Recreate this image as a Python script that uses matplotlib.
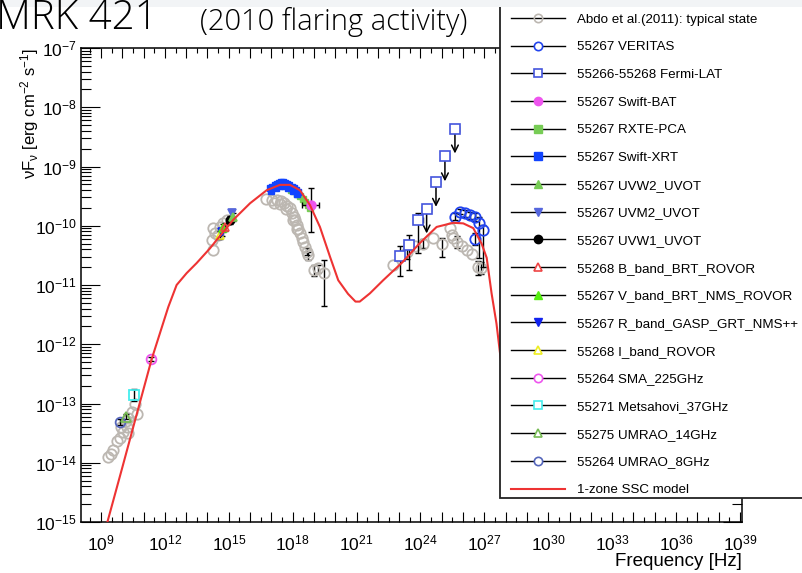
import numpy as np
import matplotlib
matplotlib.use('Agg')
import matplotlib.pyplot as plt
from matplotlib.lines import Line2D
from matplotlib.patches import Rectangle
from matplotlib.ticker import FixedLocator, FuncFormatter, LogLocator, NullFormatter

plt.rcParams['font.family'] = ['Liberation Sans', 'DejaVu Sans']
plt.rcParams['mathtext.fontset'] = 'custom'
plt.rcParams['mathtext.rm'] = 'Liberation Sans'
plt.rcParams['mathtext.it'] = 'Liberation Sans:italic'
plt.rcParams['mathtext.bf'] = 'Liberation Sans:bold'
plt.rcParams['mathtext.default'] = 'regular'

# ---------------- data (log10 nu [Hz], log10 nuFnu [erg cm^-2 s^-1]) ----------------
abdo_lognu = [9.34, 9.45, 9.58, 9.74, 9.89, 9.95, 10.05, 10.15, 10.21, 10.28, 10.28, 10.44, 10.60, 10.68,
              14.20, 14.27, 14.27, 14.35, 14.51, 14.59, 14.74, 14.90,
              16.75, 17.05, 17.10, 17.25, 17.40, 17.45, 17.60, 17.70, 17.75, 17.87, 17.95, 18.00, 18.05,
              18.11, 18.19, 18.20, 18.27, 18.34, 18.42, 18.50, 18.58, 18.66, 18.74,
              19.00, 19.20, 19.47,
              22.71, 23.35, 23.74, 24.13, 24.61, 25.00, 25.38, 25.46,
              25.55, 25.70, 25.93, 26.17, 26.40, 26.71, 26.85]
abdo_logF = [-13.90, -13.85, -13.79, -13.64, -13.59, -13.40, -13.48, -13.30, -13.39, -13.25, -13.50, -13.14, -13.00, -13.17,
             -10.24, -10.04, -10.41, -10.12, -10.16, -10.02, -9.96, -9.90,
             -9.55, -9.56, -9.62, -9.57, -9.63, -9.59, -9.62, -9.72, -9.66, -9.70, -9.79, -9.90, -9.85,
             -9.90, -9.98, -10.05, -10.05, -10.13, -10.20, -10.28, -10.36, -10.44, -10.50,
             -10.75, -10.72, -10.80,
             -10.66, -10.44, -10.35, -10.30, -10.21, -10.30, -10.04, -10.16,
             -10.20, -10.27, -10.35, -10.41, -10.47, -10.69, -10.72]
abdo_err_lo = [0]*14 + [0]*8 + [0]*21 + [0.06, 0.07] + [0.09, 0.08, 0.55] + \
              [0, 0.12, 0, 0.08, 0, 0.22, 0, 0] + [0, 0.10, 0, 0, 0, 0.14, 0.10]
abdo_err_hi = [0]*14 + [0]*8 + [0]*21 + [0.06, 0.06] + [0.08, 0.06, 0.23] + \
              [0, 0.10, 0, 0.08, 0, 0.10, 0, 0] + [0, 0.10, 0, 0, 0, 0.10, 0.10]

veritas_lognu = [25.63, 25.85, 26.09, 26.32, 26.56, 26.76, 26.92, 26.56]
veritas_logF = [-9.85, -9.76, -9.79, -9.82, -9.85, -9.95, -10.08, -10.23]
veritas_err_lo = [0.06, 0.05, 0.06, 0.06, 0.07, 0.60, 0.62, 0.10]
veritas_err_hi = [0.06, 0.05, 0.06, 0.06, 0.07, 0.10, 0.10, 0.10]

fermi_lognu = [23.04, 23.47, 23.90, 24.29, 24.73, 25.15, 25.62]
fermi_logF = [-10.51, -10.33, -9.91, -9.71, -9.26, -8.83, -8.36]
fermi_err_lo = [0.34, 0.41, 0.55, 0, 0, 0, 0]
fermi_err_hi = [0.16, 0.17, 0.12, 0, 0, 0, 0]
fermi_bin_dex = [0.2, 0.2, 0.2, 0.2, 0.2, 0.2, 0.2]
fermi_upper_limit = [False, False, False, True, True, True, True]

bat_lognu = [18.86]
bat_logF = [-9.65]
bat_lognu_range = [18.45, 19.25]
bat_logF_range = [-10.11, -9.36]

rxte_lognu = [17.90, 18.05, 18.20, 18.35, 18.50, 18.60, 18.70, 18.80]
rxte_logF = [-9.40, -9.42, -9.46, -9.50, -9.55, -9.60, -9.65, -9.70]

xrt_lognu = [16.95, 17.05, 17.15, 17.25, 17.35, 17.45, 17.55, 17.65, 17.75, 17.85, 17.95, 18.05, 18.15, 18.25,
             17.00, 17.20, 17.40, 17.60, 17.80, 18.00, 18.20]
xrt_logF = [-9.36, -9.34, -9.32, -9.30, -9.28, -9.27, -9.27, -9.28, -9.29, -9.31, -9.34, -9.37, -9.40, -9.43,
            -9.42, -9.37, -9.33, -9.33, -9.36, -9.41, -9.46]

uvw2 = (15.19, -9.85)
uvm2 = (15.13, -9.79)
uvw1 = (15.06, -9.90)
b_band = (14.83, -10.02)
v_band = (14.74, -10.04)
r_band = (14.67, -10.10)
i_band = (14.57, -10.16)
sma = (11.35, -12.25)
metsahovi = (10.57, -12.86)
umrao14 = (10.15, -13.22)
umrao8 = (9.90, -13.31)

model_lognu = [9.30, 10.00, 10.70, 11.38, 11.77, 12.16, 12.55, 13.02, 13.49, 14.12, 14.43, 15.21, 16.00,
               16.78, 17.40, 17.87, 18.34, 18.81, 19.28, 19.75, 20.14, 20.60, 20.95, 21.15, 21.63, 22.25,
               23.17, 23.95, 24.76, 25.54, 26.01, 26.48, 26.87, 27.11, 27.34, 27.57, 27.73, 28.00]
model_logF = [-15.00, -14.08, -13.15, -12.25, -11.81, -11.37, -11.00, -10.80, -10.63, -10.38, -10.24, -9.90, -9.62,
              -9.40, -9.31, -9.31, -9.40, -9.65, -10.02, -10.52, -10.92, -11.15, -11.28, -11.28, -11.14, -10.92,
              -10.61, -10.30, -10.02, -9.95, -9.96, -10.04, -10.30, -10.54, -11.14, -11.65, -12.13, -12.90]

legend_labels = ['Abdo et al.(2011): typical state', '55267 VERITAS', '55266-55268 Fermi-LAT',
                 '55267 Swift-BAT', '55267 RXTE-PCA', '55267 Swift-XRT', '55267 UVW2_UVOT',
                 '55267 UVM2_UVOT', '55267 UVW1_UVOT', '55268 B_band_BRT_ROVOR',
                 '55267 V_band_BRT_NMS_ROVOR', '55267 R_band_GASP_GRT_NMS++', '55268 I_band_ROVOR',
                 '55264 SMA_225GHz', '55271 Metsahovi_37GHz', '55275 UMRAO_14GHz', '55264 UMRAO_8GHz',
                 '1-zone SSC model']

x_decades = list(range(8, 40))
y_decades = list(range(-15, -6))

# ---------------- styles ----------------
GRAY = '#bcb7b1'
C_VER = '#2244ee'
C_FER = '#4455dd'
C_BAT = '#ee55ee'
C_RXTE = '#77cc55'
C_XRT = '#1144ff'
C_UVW2 = '#77cc55'
C_UVM2 = '#5566dd'
C_B = '#ee4444'
C_V = '#55ee11'
C_R = '#1122ee'
C_I = '#eeee22'
C_SMA = '#ee55ee'
C_MET = '#44eeee'
C_U14 = '#77bb55'
C_U8 = '#5566bb'
C_MODEL = '#ee3333'


def lin(v):
    return 10.0 ** np.asarray(v, dtype=float)


def yerr_from_dex(logF, lo, hi):
    F = lin(logF)
    return np.vstack([F - F * 10.0 ** (-np.asarray(lo, float)), F * 10.0 ** np.asarray(hi, float) - F])


fig = plt.figure(figsize=(8.02, 5.73), dpi=100)
ax = fig.add_axes([81 / 802, 51 / 573, 661 / 802, 474 / 573])
ax.set_xscale('log')
ax.set_yscale('log')

# Abdo typical state
lo = np.array(abdo_err_lo, float)
hi = np.array(abdo_err_hi, float)
m = (lo > 0) | (hi > 0)
ax.errorbar(lin(abdo_lognu)[m], lin(abdo_logF)[m],
            yerr=yerr_from_dex(np.array(abdo_logF)[m], lo[m], hi[m]),
            fmt='none', ecolor='black', elinewidth=1.0, capsize=2.5, capthick=1.0, zorder=2)
ax.plot(lin(abdo_lognu), lin(abdo_logF), 'o', ms=7.5, mfc='none', mec=GRAY, mew=1.3, zorder=3)

# Fermi-LAT
fx = lin(fermi_lognu)
fy = lin(fermi_logF)
xerr = np.vstack([fx - fx * 10.0 ** (-np.array(fermi_bin_dex)), fx * 10.0 ** np.array(fermi_bin_dex) - fx])
ax.errorbar(fx, fy, xerr=xerr, yerr=yerr_from_dex(fermi_logF, fermi_err_lo, fermi_err_hi),
            fmt='none', ecolor='black', elinewidth=1.0, capsize=2.5, capthick=1.0, zorder=4)
for xx, yy, ul in zip(fx, fy, fermi_upper_limit):
    if ul:
        ax.annotate('', xy=(xx, yy * 10 ** -0.42), xytext=(xx, yy),
                    arrowprops=dict(arrowstyle='->', color='black', lw=1.1, shrinkA=0, shrinkB=0,
                                    mutation_scale=12), zorder=4)
ax.plot(fx, fy, 's', ms=7, mfc='white', mec=C_FER, mew=1.2, zorder=5)

# VERITAS
ax.errorbar(lin(veritas_lognu), lin(veritas_logF),
            yerr=yerr_from_dex(veritas_logF, veritas_err_lo, veritas_err_hi),
            fmt='none', ecolor='black', elinewidth=1.0, capsize=2.5, capthick=1.0, zorder=4)
ax.plot(lin(veritas_lognu), lin(veritas_logF), 'o', ms=7.5, mfc='none', mec=C_VER, mew=1.3, zorder=5)

# X-rays
ax.plot(lin(rxte_lognu), lin(rxte_logF), 's', ms=5, mfc=C_RXTE, mec=C_RXTE, zorder=5)
ax.plot(lin(xrt_lognu), lin(xrt_logF), 's', ms=5, mfc=C_XRT, mec=C_XRT, zorder=6)
bx = lin(bat_lognu)
by = lin(bat_logF)
ax.errorbar(bx, by,
            xerr=[[bx[0] - 10 ** bat_lognu_range[0]], [10 ** bat_lognu_range[1] - bx[0]]],
            yerr=[[by[0] - 10 ** bat_logF_range[0]], [10 ** bat_logF_range[1] - by[0]]],
            fmt='none', ecolor='black', elinewidth=1.0, capsize=2.5, capthick=1.0, zorder=6)
ax.plot(bx, by, 'o', ms=6.5, mfc=C_BAT, mec=C_BAT, zorder=7)

# optical / UV
opt_err = 0.07
for (p, mk, fc, ec) in [(i_band, '^', 'none', C_I), (r_band, 'v', C_R, C_R), (v_band, '^', C_V, C_V),
                        (b_band, '^', 'none', C_B), (uvw1, 'o', 'black', 'black'),
                        (uvm2, 'v', C_UVM2, C_UVM2), (uvw2, '^', C_UVW2, C_UVW2)]:
    ax.errorbar([lin(p[0])], [lin(p[1])], yerr=yerr_from_dex([p[1]], [opt_err], [opt_err]),
                fmt='none', ecolor='black', elinewidth=1.0, capsize=2, zorder=6)
    ax.plot([lin(p[0])], [lin(p[1])], mk, ms=6, mfc=fc, mec=ec, mew=1.2, zorder=7)

# radio
for (p, mk, fc, ec, e) in [(umrao8, 'o', 'none', C_U8, 0.05), (umrao14, '^', 'none', C_U14, 0.05),
                           (metsahovi, 's', 'none', C_MET, 0.10), (sma, 'o', 'none', C_SMA, 0.03)]:
    ax.errorbar([lin(p[0])], [lin(p[1])], yerr=yerr_from_dex([p[1]], [e], [e]),
                fmt='none', ecolor='black', elinewidth=1.0, capsize=2, zorder=6)
    ax.plot([lin(p[0])], [lin(p[1])], mk, ms=7, mfc=fc, mec=ec, mew=1.3, zorder=7)

# model
ax.plot(lin(model_lognu), lin(model_logF), '-', color=C_MODEL, lw=1.5, zorder=9)

# ---------------- axes ----------------
ax.set_xlim(10 ** 8.06, 10 ** 39.1)
ax.set_ylim(1e-15, 1e-7)
ax.xaxis.set_major_locator(FixedLocator([10.0 ** k for k in x_decades]))
ax.xaxis.set_minor_locator(FixedLocator([10.0 ** (k + 0.5) for k in x_decades]))
ax.xaxis.set_major_formatter(FuncFormatter(
    lambda v, pos: r'$10^{%d}$' % round(np.log10(v)) if round(np.log10(v)) % 3 == 0 else ''))
ax.xaxis.set_minor_formatter(NullFormatter())
ax.yaxis.set_major_locator(FixedLocator([10.0 ** k for k in y_decades]))
ax.yaxis.set_minor_locator(LogLocator(base=10, subs=np.arange(2, 10), numticks=50))
ax.yaxis.set_major_formatter(FuncFormatter(lambda v, pos: r'$10^{%d}$' % round(np.log10(v))))
ax.yaxis.set_minor_formatter(NullFormatter())

ax.tick_params(axis='both', which='both', direction='in', top=True, right=True, width=0.8, colors='black')
ax.tick_params(axis='y', which='major', length=13.5, pad=3, labelsize=12.5)
ax.tick_params(axis='y', which='minor', length=7)
ax.tick_params(axis='x', which='major', length=7, pad=8, labelsize=12.5)
ax.tick_params(axis='x', which='minor', length=3.5)
for s in ax.spines.values():
    s.set_linewidth(1.1)

ax.set_xlabel('Frequency [Hz]', fontsize=13.5, loc='right')
ax.xaxis.set_label_coords(1.0, -0.066)
ax.set_ylabel(r'$\nu$F$_{\nu}$ [erg cm$^{-2}$ s$^{-1}$]', fontsize=12, loc='top')
ax.yaxis.set_label_coords(-0.061, 1.0)

# ---------------- legend ----------------
handles = [
    Line2D([], [], color='black', lw=1, marker='o', ms=6, mfc='none', mec=GRAY, mew=1.2),
    Line2D([], [], color='black', lw=1, marker='o', ms=6, mfc='white', mec=C_VER, mew=1.2),
    Line2D([], [], color='black', lw=1, marker='s', ms=6, mfc='white', mec=C_FER, mew=1.2),
    Line2D([], [], color='black', lw=1, marker='o', ms=6, mfc=C_BAT, mec=C_BAT),
    Line2D([], [], color='black', lw=1, marker='s', ms=6, mfc=C_RXTE, mec=C_RXTE),
    Line2D([], [], color='black', lw=1, marker='s', ms=6, mfc=C_XRT, mec=C_XRT),
    Line2D([], [], color='black', lw=1, marker='^', ms=6, mfc=C_UVW2, mec=C_UVW2),
    Line2D([], [], color='black', lw=1, marker='v', ms=6, mfc=C_UVM2, mec=C_UVM2),
    Line2D([], [], color='black', lw=1, marker='o', ms=6, mfc='black', mec='black'),
    Line2D([], [], color='black', lw=1, marker='^', ms=6, mfc='white', mec=C_B, mew=1.2),
    Line2D([], [], color='black', lw=1, marker='^', ms=6, mfc=C_V, mec=C_V),
    Line2D([], [], color='black', lw=1, marker='v', ms=6, mfc=C_R, mec=C_R),
    Line2D([], [], color='black', lw=1, marker='^', ms=6, mfc='white', mec=C_I, mew=1.2),
    Line2D([], [], color='black', lw=1, marker='o', ms=6, mfc='white', mec=C_SMA, mew=1.2),
    Line2D([], [], color='black', lw=1, marker='s', ms=6, mfc='white', mec=C_MET, mew=1.2),
    Line2D([], [], color='black', lw=1, marker='^', ms=6, mfc='white', mec=C_U14, mew=1.2),
    Line2D([], [], color='black', lw=1, marker='o', ms=6, mfc='white', mec=C_U8, mew=1.2),
    Line2D([], [], color=C_MODEL, lw=1.5),
]
box = Rectangle((500 / 802, 1 - 498 / 573), 0.5, (498 - 6) / 573, transform=fig.transFigure,
                facecolor='white', edgecolor='#222222', lw=1.3, zorder=4)
fig.patches.append(box)
leg = fig.legend(handles, legend_labels, loc='upper left', bbox_to_anchor=(511 / 802, 1 - 13.5 / 573),
                 frameon=False, borderpad=0, borderaxespad=0, handlelength=4.06, handletextpad=0.9,
                 labelspacing=1.15, fontsize=9.6)
leg.set_zorder(5)

band = Rectangle((0, 1 - 7 / 573), 1, 7 / 573, transform=fig.transFigure,
                 facecolor='#f2f4f6', edgecolor='none', zorder=6)
fig.patches.append(band)

fig.text(-4 / 802, 1 - 29 / 573, 'MRK 421', fontsize=29, family=['Open Sans', 'DejaVu Sans'],
         fontweight='light', va='baseline', ha='left', zorder=10)
fig.text(200 / 802, 1 - 30 / 573, '(2010 flaring activity)', fontsize=21, family=['Open Sans', 'DejaVu Sans'],
         fontweight='light', va='baseline', ha='left', zorder=10)

fig.savefig('out.png', dpi=100)
